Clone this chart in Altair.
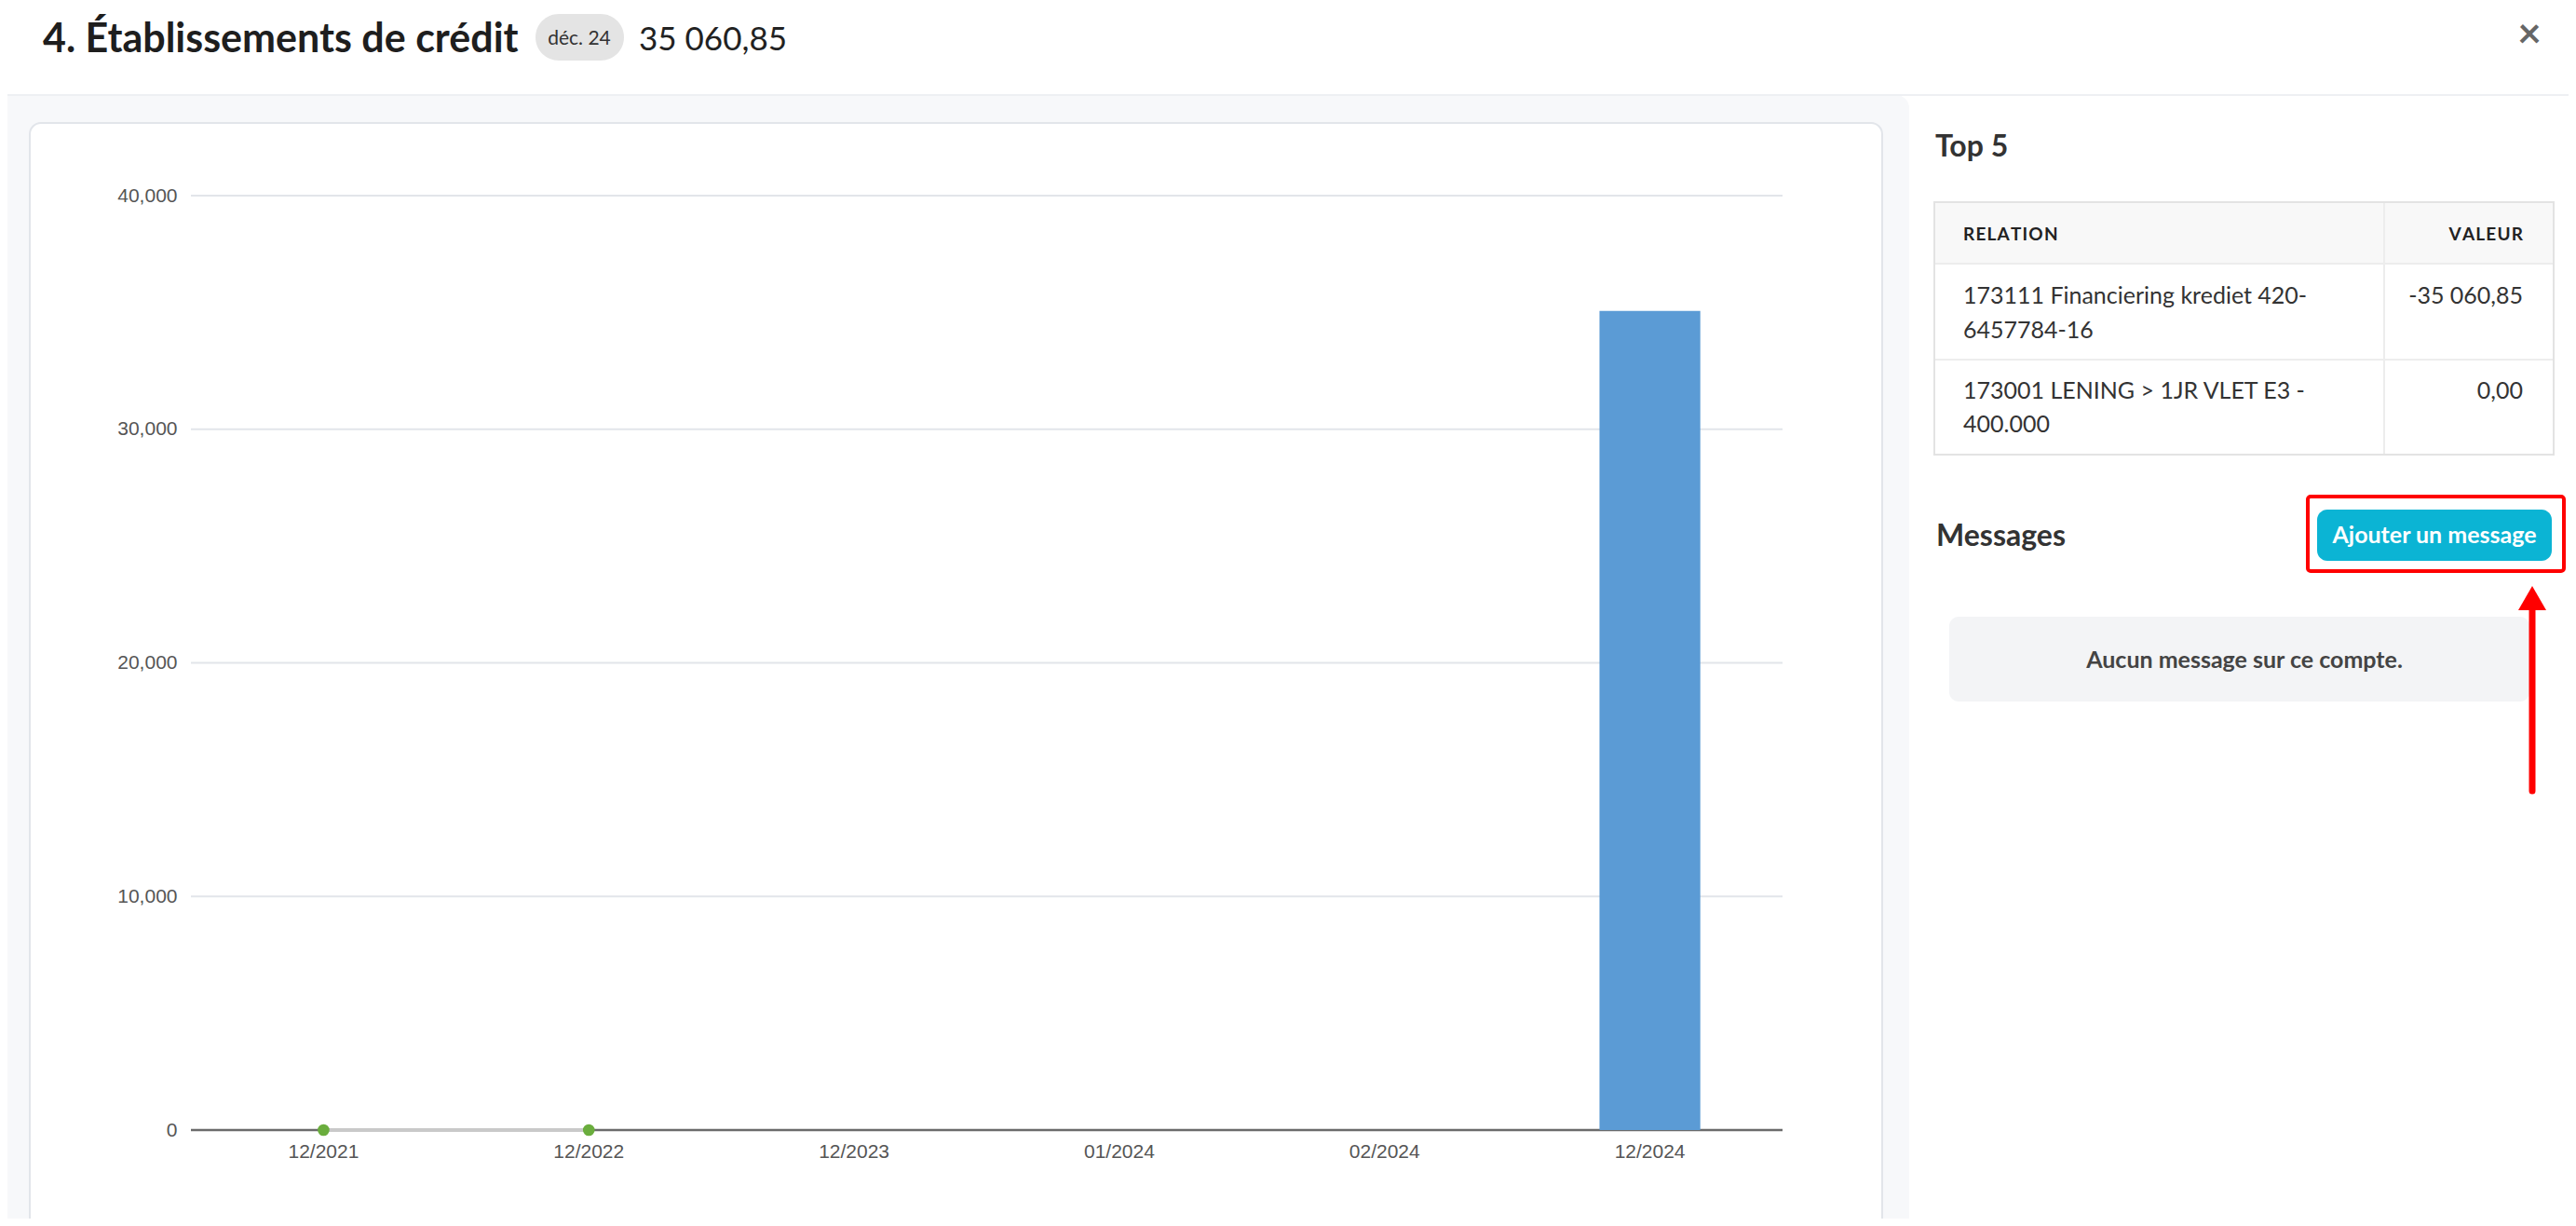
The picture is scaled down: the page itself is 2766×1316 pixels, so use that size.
import altair as alt
import pandas as pd

# ---------------- data ----------------
months = ["12/2021", "12/2022", "12/2023", "01/2024", "02/2024", "12/2024"]
bar_values = [0, 0, 0, 0, 0, 35060.85]
line_values = [0, 0, None, None, None, None]
y_ticks = [0, 10000, 20000, 30000, 40000]
grid_values = [10000, 20000, 30000, 40000]

table_rows = [
    ["173111 Financiering krediet 420-", "6457784-16", "-35 060,85"],
    ["173001 LENING > 1JR VLET E3 -", "400.000", "0,00"],
]

df = pd.DataFrame({"month": months, "bar": bar_values, "line": line_values})
grid_df = pd.DataFrame({"v": grid_values})
zero_df = pd.DataFrame({"v": [0]})

# ---------------- layout (page pixels) ----------------
OX, OY = 205, 210          # plot origin on the page
W, H = 1709, 1003          # plot size
PAD = {"left": OX - 8, "top": OY - 8, "right": 2758 - (OX + W), "bottom": 1308 - (OY + H)}

one = alt.Data(values=[{"k": 0}])
UI = "Lato"
AX = "Liberation Sans"
HS = "\u200a"


def spaced(s):
    return HS.join(list(s))


def box(x1, y1, x2, y2, **kw):
    return alt.Chart(one).mark_rect(**kw).encode(
        x=alt.value(x1 - OX), x2=alt.value(x2 - OX),
        y=alt.value(y1 - OY), y2=alt.value(y2 - OY))


def label(txt, x, y, **kw):
    kw.setdefault("font", UI)
    return alt.Chart(one).mark_text(text=txt, **kw).encode(
        x=alt.value(x - OX), y=alt.value(y - OY))


xscale = alt.Scale(paddingInner=0.62, paddingOuter=0.31)
xaxis = alt.Axis(title=None, labelFont=AX, labelFontSize=21, labelColor="#555555",
                 labelPadding=12, ticks=False, domain=False, grid=False, zindex=1,
                 labelAngle=0)
yscale = alt.Scale(domain=[0, 40000], nice=False)
yaxis = alt.Axis(title=None, values=y_ticks, labelExpr="format(datum.value, ',')",
                 labelFont=AX, labelFontSize=21,
                 labelColor="#555555", labelPadding=15, ticks=False, domain=False,
                 grid=False, zindex=1)

X = alt.X("month:N", sort=months, scale=xscale, axis=xaxis)

# backgrounds
bg_left = box(-20, 102, 2050, 1400, color="#f7f8fa", cornerRadius=14)
header_line = box(0, 101, 2766, 103, color="#eef0f3")
card = box(32, 132, 2021, 1400, fill="white", stroke="#e2e5ea", strokeWidth=2, cornerRadius=12)

# chart layers
grid = alt.Chart(grid_df).mark_rule(color="#e2e5ea", strokeWidth=2).encode(
    y=alt.Y("v:Q", scale=yscale, axis=yaxis))
zero = alt.Chart(zero_df).mark_rule(color="#6b6b6b", strokeWidth=2.5).encode(
    y=alt.Y("v:Q", scale=yscale, axis=yaxis))
bars = alt.Chart(df).mark_bar(color="#5b9bd5").encode(
    x=X, y=alt.Y("bar:Q", scale=yscale, axis=yaxis))
line = alt.Chart(df).mark_line(color="#c9c9c9", strokeWidth=4).encode(
    x=X, y=alt.Y("line:Q", scale=yscale, axis=yaxis))
points = alt.Chart(df).mark_point(filled=True, color="#6aad3d", size=160, opacity=1).encode(
    x=X, y=alt.Y("line:Q", scale=yscale, axis=yaxis))

# header
title = label("4. Établissements de crédit", 46, 56, fontSize=43, fontWeight="bold",
              color="#1e1e1e", align="left", baseline="alphabetic")
badge = box(575, 15, 670, 65, color="#e4e4e4", cornerRadius=25)
badge_t = label("déc. 24", 622, 48, fontSize=21, color="#333333", align="center",
                baseline="alphabetic")
value_t = label("35 060,85", 686, 54, fontSize=35, color="#222222", align="left",
                baseline="alphabetic")
close_t = label("×", 2716, 38, fontSize=44, fontWeight="bold", color="#666666",
                align="center", baseline="middle")

# right panel: Top 5
top5 = label("Top 5", 2078, 168, fontSize=32, fontWeight="bold", color="#333333",
             align="left", baseline="alphabetic")
table_box = box(2077, 217, 2742, 488, fill="white", stroke="#e3e3e3", strokeWidth=2)
table_head = box(2078, 218, 2741, 283, color="#f8f8f8")
row_sep1 = box(2078, 282, 2741, 284, color="#ededed")
row_sep2 = box(2078, 385, 2741, 387, color="#ededed")
col_sep = box(2559, 218, 2561, 487, color="#ededed")
h_rel = label(spaced("RELATION"), 2108, 252, fontSize=19, fontWeight="bold", color="#222222",
              align="left", baseline="middle")
h_val = label(spaced("VALEUR"), 2709, 252, fontSize=19, fontWeight="bold", color="#222222",
              align="right", baseline="middle")
row_texts = []
for (a, b, v), (ya, yb) in zip(table_rows, [(318, 355), (420, 456)]):
    row_texts.append(label(a, 2108, ya, fontSize=25, color="#333333", align="left", baseline="middle"))
    row_texts.append(label(b, 2108, yb, fontSize=25, color="#333333", align="left", baseline="middle"))
    row_texts.append(label(v, 2709, ya, fontSize=25, color="#333333", align="right", baseline="middle"))

# messages
msg_title = label("Messages", 2079, 576, fontSize=32, fontWeight="bold", color="#333333",
                  align="left", baseline="middle")
red_box = box(2478, 533, 2753, 613, fill="transparent", stroke="#ff0000", strokeWidth=4,
              cornerRadius=3)
button = box(2488, 547, 2740, 602, color="#0bb4d4", cornerRadius=11)
button_t = label("Ajouter un message", 2614, 575, fontSize=25, fontWeight="bold",
                 color="white", align="center", baseline="middle")
msg_box = box(2093, 662, 2716, 753, color="#f3f4f6", cornerRadius=10)
msg_t = label("Aucun message sur ce compte.", 2410, 709, fontSize=25, fontWeight="bold",
              color="#444444", align="center", baseline="middle")
arrow_line = alt.Chart(one).mark_rule(color="#ff0000", strokeWidth=7, strokeCap="round").encode(
    x=alt.value(2719 - OX), y=alt.value(648 - OY), y2=alt.value(849 - OY))
arrow_head = alt.Chart(one).mark_point(shape="triangle-up", filled=True, color="#ff0000",
                                       size=900, opacity=1).encode(
    x=alt.value(2719 - OX), y=alt.value(642 - OY))

chart = alt.layer(
    bg_left, header_line, card,
    grid, zero, bars, line, points,
    title, badge, badge_t, value_t, close_t,
    top5, table_box, table_head, row_sep1, row_sep2, col_sep, h_rel, h_val, *row_texts,
    msg_title, red_box, button, button_t, msg_box, msg_t, arrow_line, arrow_head,
).properties(
    width=W, height=H,
    autosize=alt.AutoSizeParams(type="none"),
    padding=PAD,
    background="white",
).configure_view(stroke=None)

chart.save("out.html", embed_options={"renderer": "svg", "actions": False})
